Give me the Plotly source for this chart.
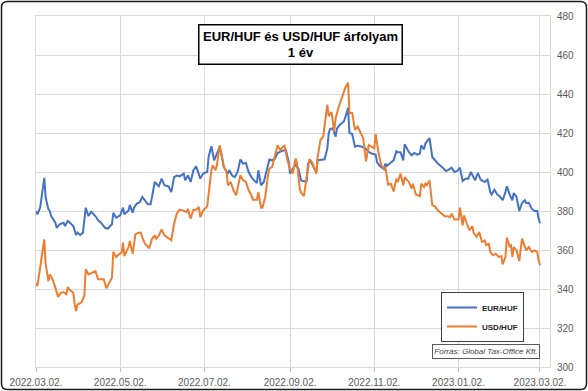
import plotly.graph_objects as go
import pandas as pd

START = "2022-03-02"

eur_days = [0, 1, 3, 6, 7, 9, 10, 11, 14, 15, 17, 20, 21, 23, 24, 27, 29, 30, 32, 34, 36, 38, 40, 43, 45, 47, 50, 52, 55, 56, 58, 61, 63, 64, 67, 68, 70, 71, 73, 75, 77, 79, 81, 83, 85, 86, 89, 91, 93, 96, 98, 100, 102, 104, 107, 108, 110, 112, 114, 116, 119, 121, 124, 125, 127, 129, 131, 133, 134, 136, 139, 140, 142, 144, 146, 148, 150, 152, 154, 156, 158, 160, 161, 163, 165, 167, 169, 171, 173, 175, 178, 180, 181, 183, 184, 186, 188, 190, 192, 194, 196, 197, 199, 201, 203, 204, 207, 209, 211, 212, 213, 215, 217, 218, 220, 223, 225, 226, 227, 229, 231, 233, 236, 238, 241, 243, 246, 247, 249, 252, 253, 254, 257, 259, 261, 262, 264, 266, 267, 270, 272, 274, 276, 278, 279, 281, 282, 285, 287, 289, 291, 294, 297, 299, 301, 303, 305, 307, 309, 311, 313, 315, 317, 318, 320, 322, 325, 327, 329, 330, 332, 334, 336, 338, 340, 341, 343, 345, 346, 348, 350, 352, 354, 355, 357, 359, 361, 363, 364, 365]
eur_values = [380, 378.3, 381.7, 397, 386.8, 380.9, 380, 377.4, 374, 371.4, 373.2, 374, 372.3, 374.9, 374.4, 372.3, 367.7, 368.9, 367.7, 368.9, 381.7, 377.4, 379.6, 377.4, 375.2, 374, 371.4, 371, 373.2, 379.1, 376.6, 377.8, 381.7, 378.3, 380.3, 383.1, 379.1, 381.7, 383.8, 384.4, 387.2, 385.1, 383.4, 383.4, 391.1, 394.9, 392.7, 396.6, 393.2, 392.6, 389.7, 397.4, 398.2, 397.8, 399.2, 395.8, 398.2, 394.9, 400.9, 402.9, 396.6, 399.2, 400, 407.7, 413.2, 406, 409.4, 412.8, 410.2, 402.6, 399.2, 400.9, 398.2, 397.4, 400, 406.4, 404.3, 404.6, 400, 397.4, 395.7, 394.4, 400.9, 393.2, 394.9, 401.5, 406.4, 406, 406.8, 409.7, 410.8, 411.1, 411.2, 405.2, 399.2, 401.7, 403.8, 401.7, 395.7, 395.2, 395.2, 404.3, 405.5, 402.6, 400, 406, 406.3, 406.5, 412.1, 419.9, 422.1, 422.4, 418.1, 422.4, 424.2, 425.9, 430.3, 432.9, 420, 419.5, 413, 413.4, 413, 412.4, 410.4, 409.5, 409, 404.9, 403.1, 401.4, 404.3, 403.1, 404.9, 406, 410.7, 410.1, 410.1, 406, 414.2, 410.3, 408.6, 409.8, 408.9, 409.4, 413.7, 411.6, 414.6, 417.4, 407.7, 406, 404.3, 402.6, 400.5, 401.2, 402.2, 400, 400.5, 402.2, 395.4, 396.6, 396.6, 400, 397.4, 395.7, 399.5, 396.1, 394.9, 396.1, 389.7, 388.5, 390.9, 388.5, 387.4, 385.5, 389.7, 392.7, 388.5, 385.5, 389.2, 387.2, 380, 384.1, 385.5, 384.1, 384.1, 381.2, 380, 380, 376.1, 373.8]

usd_days = [0, 1, 3, 6, 7, 9, 10, 12, 14, 16, 18, 20, 22, 23, 24, 27, 28, 29, 30, 33, 35, 36, 38, 41, 43, 45, 47, 49, 51, 53, 55, 56, 58, 60, 62, 63, 64, 67, 68, 70, 72, 74, 76, 77, 79, 82, 84, 86, 87, 89, 91, 93, 96, 98, 100, 102, 104, 107, 109, 110, 112, 114, 116, 118, 119, 121, 124, 125, 127, 128, 130, 131, 133, 134, 136, 138, 139, 141, 143, 145, 147, 148, 150, 152, 154, 156, 157, 160, 161, 163, 164, 166, 168, 169, 171, 173, 175, 177, 179, 180, 182, 184, 186, 188, 189, 191, 192, 194, 196, 198, 200, 202, 203, 204, 206, 208, 209, 211, 212, 214, 216, 217, 219, 221, 223, 224, 226, 227, 229, 231, 233, 235, 237, 239, 241, 243, 245, 246, 248, 250, 252, 253, 255, 257, 259, 261, 262, 264, 266, 267, 270, 272, 273, 275, 277, 278, 279, 281, 282, 283, 285, 287, 289, 291, 293, 296, 298, 300, 301, 303, 306, 307, 309, 310, 312, 314, 316, 317, 319, 321, 323, 325, 326, 328, 329, 331, 333, 335, 337, 338, 340, 341, 343, 344, 345, 346, 348, 350, 352, 354, 355, 357, 359, 361, 363, 364, 365]
usd_values = [343.2, 341.5, 350.9, 365.5, 352.7, 344.1, 347.5, 345, 340.7, 335.9, 338.1, 338.3, 337.3, 341, 339.8, 338.1, 332.2, 328.7, 332, 333.2, 336.4, 350.1, 347.5, 348.4, 349.2, 345, 345, 345, 340.4, 343.3, 345.8, 359.1, 356.4, 357.8, 358.6, 363.8, 356.9, 361.5, 364.6, 358.1, 368, 368.9, 368.9, 366.3, 363.2, 360.9, 365.6, 367.5, 365.8, 367.5, 370.5, 367.5, 365.8, 365, 373.5, 378.7, 380.7, 380.2, 379.4, 381.1, 376.1, 380.7, 380.7, 382, 376.9, 380.2, 382.4, 389.7, 400.9, 403.4, 400.9, 403.4, 413.7, 410.2, 402.9, 400, 393.2, 394.9, 390.6, 388.1, 394.1, 398.3, 395.8, 394.9, 390.6, 388.1, 385.8, 385.8, 389.7, 381.7, 381.7, 387.2, 398.3, 401.7, 402.6, 407.7, 413.7, 411.2, 413.2, 413.5, 406.1, 401.7, 399.2, 406.9, 404.9, 391.4, 389.3, 387.6, 398.3, 406.6, 404.9, 401.7, 399.2, 407.8, 416.4, 418.1, 424.2, 434.6, 428.6, 430.8, 420.7, 427.6, 432.8, 436.6, 440.6, 443.2, 445.8, 430.3, 430.3, 421.6, 423.3, 420.4, 417.3, 405.5, 413.8, 413, 412.1, 419.4, 410.1, 403.5, 401.7, 402.6, 393.5, 394, 390, 396.6, 394.9, 399.2, 393.2, 397.4, 394.9, 391.5, 394, 388.6, 388.1, 387.6, 394, 392.3, 394, 393.2, 395.7, 382.9, 382.4, 380.4, 379.1, 377.3, 377.3, 376.9, 378.6, 375.6, 375.6, 381.7, 372.7, 377.7, 373.5, 370.1, 372.2, 368.8, 366.7, 369.2, 364.1, 364.9, 362.4, 363.2, 359, 357.3, 358.1, 356.5, 356.8, 352.7, 356.5, 366.4, 361.9, 362.4, 356.5, 361.5, 359.8, 354.4, 365.8, 362.4, 359.8, 361.5, 359, 359.8, 359, 354.7, 352.2]

series_names = ["EUR/HUF", "USD/HUF"]
tick_dates = ["2022-03-02", "2022-05-02", "2022-07-02", "2022-09-02", "2022-11-02", "2023-01-02", "2023-03-02"]
tick_labels = ["2022.03.02.", "2022.05.02.", "2022.07.02.", "2022.09.02.", "2022.11.02.", "2023.01.02.", "2023.03.02."]
y_ticks = [300, 320, 340, 360, 380, 400, 420, 440, 460, 480]
title_text = "EUR/HUF és USD/HUF árfolyam<br>1 év"
source_text = "Forrás: Global Tax-Office Kft."

start = pd.Timestamp(START)
eur_dates = start + pd.to_timedelta(eur_days, unit="D")
usd_dates = start + pd.to_timedelta(usd_days, unit="D")

W, H = 588, 391
ML, MR, MT, MB = 36, 38, 16, 24
PW, PH = W - ML - MR, H - MT - MB


def px(xp):
    return (xp - ML) / PW


def py(yp):
    return (H - MB - yp) / PH


fig = go.Figure()
fig.add_trace(go.Scatter(x=eur_dates, y=eur_values, mode="lines", name=series_names[0],
                         line=dict(color="#4472C4", width=2)))
fig.add_trace(go.Scatter(x=usd_dates, y=usd_values, mode="lines", name=series_names[1],
                         line=dict(color="#ED7D31", width=2)))

tick_font = dict(family="Liberation Sans Narrow, Arial Narrow, Liberation Sans, Arial", size=10, color="#595959")

fig.update_xaxes(
    type="date", automargin=False,
    range=[start, pd.Timestamp("2023-03-09 06:00")],
    tickvals=pd.to_datetime(tick_dates), ticktext=tick_labels,
    showgrid=True, gridcolor="#d9d9d9", gridwidth=1,
    showline=True, linecolor="#d9d9d9", linewidth=1, mirror=True,
    ticks="outside", ticklen=4, tickcolor="#bfbfbf", ticklabelstandoff=2,
    tickfont=tick_font, zeroline=False,
)
fig.update_yaxes(
    range=[300, 480], tickvals=y_ticks, side="right", automargin=False,
    showgrid=True, gridcolor="#d9d9d9", gridwidth=1,
    showline=True, linecolor="#d9d9d9", linewidth=1, mirror=True,
    ticks="", tickfont=tick_font, ticklabelstandoff=4, zeroline=False,
)

# outer rounded border
x0, y0, x1, y1, r = 1.5, 1.5, 586.5, 389.5, 6
path = (f"M {px(x0 + r)} {py(y0)} L {px(x1 - r)} {py(y0)} Q {px(x1)} {py(y0)} {px(x1)} {py(y0 + r)} "
        f"L {px(x1)} {py(y1 - r)} Q {px(x1)} {py(y1)} {px(x1 - r)} {py(y1)} "
        f"L {px(x0 + r)} {py(y1)} Q {px(x0)} {py(y1)} {px(x0)} {py(y1 - r)} "
        f"L {px(x0)} {py(y0 + r)} Q {px(x0)} {py(y0)} {px(x0 + r)} {py(y0)} Z")
fig.add_shape(type="path", path=path, xref="paper", yref="paper",
              line=dict(color="#1a1a1a", width=1.5), layer="above")

fig.add_annotation(
    text=title_text, xref="paper", yref="paper", x=px(300), y=py(45),
    xanchor="center", yanchor="middle", showarrow=False,
    font=dict(family="Liberation Sans, Arial", size=13, color="#000000", weight="bold"),
    bgcolor="#ffffff", bordercolor="#000000", borderwidth=1.5, borderpad=1,
    width=200, height=36, align="center",
)
fig.add_annotation(
    text=source_text, xref="paper", yref="paper", x=px(486), y=py(351.5),
    xanchor="center", yanchor="middle", showarrow=False,
    font=dict(family="Liberation Sans, Arial", size=8, color="#404040", style="italic"),
    bgcolor="#ffffff", bordercolor="#595959", borderwidth=1, borderpad=1,
    width=104, height=11, align="center",
)

fig.update_layout(
    width=W, height=H,
    margin=dict(l=ML, r=MR, t=MT, b=MB, pad=0),
    paper_bgcolor="#ffffff", plot_bgcolor="#ffffff",
    showlegend=True,
    legend=dict(
        x=px(441), y=py(292), xanchor="left", yanchor="top",
        bgcolor="#ffffff", bordercolor="#404040", borderwidth=1,
        font=dict(family="Liberation Sans, Arial", size=8, color="#262626", weight="bold"),
        itemwidth=30, tracegroupgap=0,
    ),
)

fig.write_html("out.html", config={"displayModeBar": False},
               post_script="document.body.style.margin='0';document.body.style.overflow='hidden';")
